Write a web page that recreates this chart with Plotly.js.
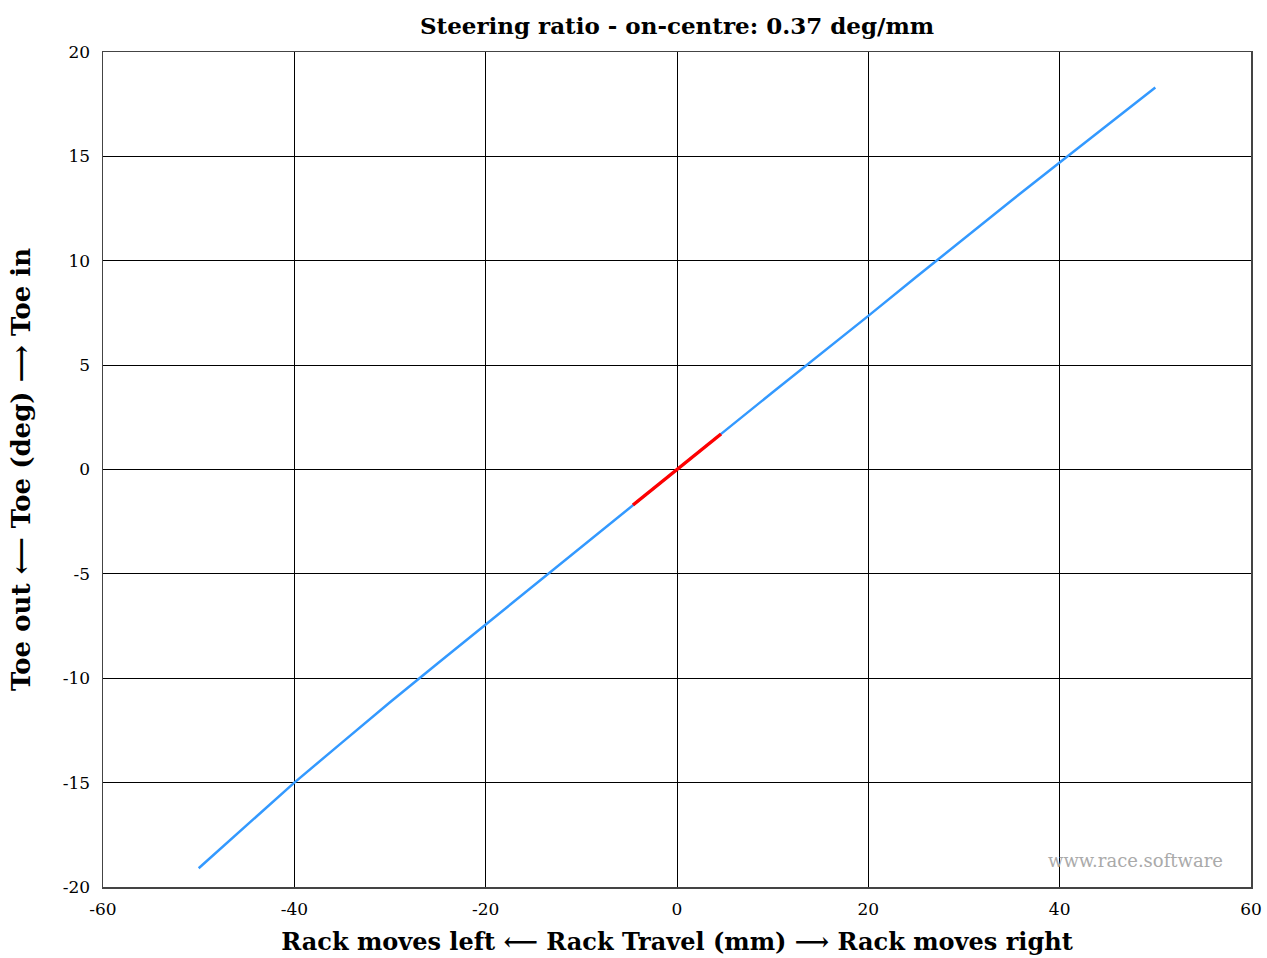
<!DOCTYPE html>
<html>
<head>
<meta charset="utf-8">
<script src="https://cdn.plot.ly/plotly-3.0.1.min.js"></script>
<style>html,body{margin:0;padding:0;background:#fff;}#chart{width:1267px;height:958px;}</style>
</head>
<body>
<div id="chart"></div>
<script>
const rackTravel = [-50,-45,-40,-35,-30,-25,-20,-15,-10,-5,0,5,10,15,20,25,30,35,40,45,50];
const toeAngle = [-19.1,-17.05,-15.0,-13.07,-11.15,-9.28,-7.42,-5.55,-3.7,-1.85,0,1.85,3.7,5.52,7.36,9.22,11.07,12.9,14.71,16.5,18.3];
const centreTravel = [-4.6,0,4.6];
const centreToe = [-1.70,0,1.70];
const xTickVals = [-60,-40,-20,0,20,40,60];
const xTickText = ['-60','-40','-20','0','20','40','60'];
const yTickVals = [-20,-15,-10,-5,0,5,10,15,20];
const yTickText = ['-20','-15','-10','-5','0','5','10','15','20'];
const titleText = "Steering ratio - on-centre: 0.37 deg/mm";
const xTitle = "Rack moves left ⟵ Rack Travel (mm) ⟶ Rack moves right";
const yTitle = "Toe out ⟵ Toe (deg) ⟶ Toe in";
const watermark = "www.race.software";

const font = "'DejaVu Serif', 'Liberation Serif', serif";
const traces = [
  {x: rackTravel, y: toeAngle, mode: 'lines', line: {color: '#3399ff', width: 2.5}, hoverinfo: 'x+y'},
  {x: centreTravel, y: centreToe, mode: 'lines', line: {color: '#ff0000', width: 3.5}, hoverinfo: 'x+y'}
];
const axisCommon = {
  showgrid: true, gridcolor: '#000000', gridwidth: 1,
  showline: true, linecolor: '#444444', linewidth: 1.5, mirror: 'ticks',
  ticks: 'inside', ticklen: 6, tickcolor: '#000000',
  zeroline: false,
  tickfont: {family: font, size: 17, color: '#000'}
};
const layout = {
  width: 1267, height: 958,
  margin: {l: 103, r: 16, t: 52, b: 71},
  paper_bgcolor: '#fff', plot_bgcolor: '#fff',
  showlegend: false,
  title: {text: '<b>' + titleText + '</b>', font: {family: font, size: 23, color: '#000'}, xref: 'paper', x: 0.5, xanchor: 'center', y: 0.981, yanchor: 'top'},
  xaxis: Object.assign({}, axisCommon, {range: [-60, 60], tickmode: 'array', tickvals: xTickVals, ticktext: xTickText,
    ticklabelstandoff: 6,
    title: {text: '<b>' + xTitle + '</b>', font: {family: font, size: 24, color: '#000'}, standoff: 15}}),
  yaxis: Object.assign({}, axisCommon, {range: [-20, 20], tickmode: 'array', tickvals: yTickVals, ticktext: yTickText,
    ticklabelstandoff: 8,
    title: {text: '<b>' + yTitle + '</b>', font: {family: font, size: 26, color: '#000'}, standoff: 24}}),
  annotations: [{
    text: watermark, xref: 'paper', yref: 'paper', x: 0.977, y: 0.032, xanchor: 'right', yanchor: 'middle',
    showarrow: false, font: {family: font, size: 18, color: '#aaaaaa'}
  }]
};
Plotly.newPlot('chart', traces, layout, {displayModeBar: false, staticPlot: true});
</script>
</body>
</html>
